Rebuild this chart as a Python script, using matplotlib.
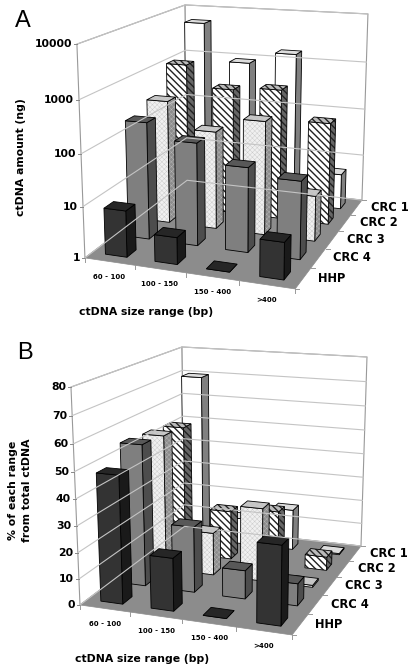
import numpy as np
import matplotlib
matplotlib.use("Agg")
import matplotlib.pyplot as plt
from matplotlib.patches import Polygon

plt.rcParams['font.family'] = ['DejaVu Sans']
plt.rcParams['hatch.linewidth'] = 1.0

size_ranges = ['60 - 100', '100 - 150', '150 - 400', '>400']
series_names = ['HHP', 'CRC 4', 'CRC 3', 'CRC 2', 'CRC 1']

# panel A, ng
amount_hhp = [8, 3.3, 1, 5]
amount_crc4 = [210, 105, 45, 32]
amount_crc3 = [320, 95, 190, 8]
amount_crc2 = [1100, 400, 470, 120]
amount_crc1 = [5500, 900, 1600, 5.5]
amount_ticks = [1, 10, 100, 1000, 10000]

# panel B, %
pct_hhp = [48.5, 20, 0, 29.5]
pct_crc4 = [55, 25.5, 11, 8.5]
pct_crc3 = [54, 17, 29, 0.8]
pct_crc2 = [53, 20, 22, 5.5]
pct_crc1 = [70, 11, 17, 0.5]
pct_ticks = [0, 10, 20, 30, 40, 50, 60, 70, 80]

# front, side, top colours per series; hatch colour drawn over the fill
styles = [
    dict(front='#333333', side='#1a1a1a', top='#262626', hatch=None, ink='black', ink_lw=1.0),
    dict(front='#7f7f7f', side='#4d4d4d', top='#585858', hatch=None, ink='black', ink_lw=1.0),
    dict(front='#f0f0f0', side='#8c8c8c', top='#c8c8c8', hatch='xxxxxxx', ink='#c0c0c0', ink_lw=0.25),
    dict(front='#ffffff', side='#666666', top='#bbbbbb', hatch='\\\\\\\\\\', ink='#222222', ink_lw=1.0),
    dict(front='#ffffff', side='#808080', top='#dddddd', hatch=None, ink='black', ink_lw=1.0),
]

X_LO, X_HI = 0.27, 0.71
Y_LO, Y_HI = 0.30, 0.70


def make_camera(corners):
    # homography from (cat, series, height 0..1) to pixels, from six box corners
    world = [(0, 0, 0), (4, 0, 0), (4, 5, 0), (0, 0, 1), (0, 5, 1), (4, 5, 1)]
    rows = []
    for (X, Y, Z), (u, v) in zip(world, corners):
        rows.append([X, Y, Z, 1, 0, 0, 0, 0, -u * X, -u * Y, -u * Z, -u])
        rows.append([0, 0, 0, 0, X, Y, Z, 1, -v * X, -v * Y, -v * Z, -v])
    P = np.linalg.svd(np.array(rows, dtype=float))[2][-1].reshape(3, 4)

    def project(x, y, z):
        p = P @ np.array([x, y, z, 1.0])
        return p[0] / p[2], p[1] / p[2]
    return project


def add_face(ax, pts, col, st):
    ax.add_patch(Polygon(pts, fc=col, ec='none', lw=0))
    if st['hatch']:
        p = Polygon(pts, fill=False, ec=st['ink'], lw=0, hatch=st['hatch'])
        p.set_hatch_linewidth(st['ink_lw'])
        ax.add_patch(p)
    ax.add_patch(Polygon(pts, fill=False, ec='black', lw=0.6))


def draw_panel(ax, corners, rows, to_height, ticks, letter, letter_pos, ylabel, ylabel_pos, xlabel_pos):
    pr = make_camera(corners)

    # walls
    ax.add_patch(Polygon([pr(0, 0, 0), pr(0, 5, 0), pr(0, 5, 1), pr(0, 0, 1)], fc='white', ec='#999999', lw=0.8))
    ax.add_patch(Polygon([pr(0, 5, 0), pr(4, 5, 0), pr(4, 5, 1), pr(0, 5, 1)], fc='white', ec='#999999', lw=0.8))
    for t in ticks:
        h = to_height(t)
        line = [pr(0, 0, h), pr(0, 5, h), pr(4, 5, h)]
        ax.plot(*zip(*line), color='#c4c4c4', lw=0.8)
        u, v = pr(0, 0, h)
        ax.plot([u - 3, u], [v, v], color='#888888', lw=0.7)
        ax.text(u - 5, v, str(t), ha='right', va='center', fontsize=7.8, fontweight='bold')

    # floor
    ax.add_patch(Polygon([pr(0, 0, 0), pr(4, 0, 0), pr(4, 5, 0), pr(0, 5, 0)], fc='#8c8c8c', ec='#8c8c8c', lw=0.5))

    # ticks and labels on the floor edges
    for i in range(5):
        u, v = pr(i, 0, 0)
        ax.plot([u, u], [v, v + 4], color='#999999', lw=0.7)
    for j in range(6):
        u, v = pr(4, j, 0)
        ax.plot([u, u + 4], [v, v], color='#999999', lw=0.7)
    for i, name in enumerate(size_ranges):
        u, v = pr(i + 0.5, 0, 0)
        ax.text(u, v + 15, name, ha='center', va='center', fontsize=5.0, fontweight='bold')
    for j, name in enumerate(series_names):
        u, v = pr(4, j + 0.5, 0)
        ax.text(u + 15, v, name, ha='left', va='center', fontsize=8.3, fontweight='bold')

    # bars, back row first
    for j in range(4, -1, -1):
        st = styles[j]
        for i in range(4):
            h = to_height(rows[j][i])
            x0, x1 = i + X_LO, i + X_HI
            y0, y1 = j + Y_LO, j + Y_HI
            add_face(ax, [pr(x1, y0, 0), pr(x1, y1, 0), pr(x1, y1, h), pr(x1, y0, h)], st['side'], st)
            add_face(ax, [pr(x0, y0, 0), pr(x1, y0, 0), pr(x1, y0, h), pr(x0, y0, h)], st['front'], st)
            add_face(ax, [pr(x0, y0, h), pr(x1, y0, h), pr(x1, y1, h), pr(x0, y1, h)], st['top'], st)

    ax.text(*letter_pos, letter, ha='center', va='center', fontsize=17, family='Liberation Sans')
    ax.text(*ylabel_pos, ylabel, ha='center', va='center', rotation=90, fontsize=7.8, fontweight='bold', linespacing=1.5)
    ax.text(*xlabel_pos, 'ctDNA size range (bp)', ha='center', va='center', fontsize=7.8, fontweight='bold')


fig = plt.figure(figsize=(4.15, 6.69), dpi=100)
ax = fig.add_axes([0, 0, 1, 1])
ax.set_xlim(0, 415)
ax.set_ylim(669, 0)
ax.axis('off')

draw_panel(ax, [(85, 258), (295, 289), (362, 200), (77, 44), (185, 5), (368, 14)],
           [amount_hhp, amount_crc4, amount_crc3, amount_crc2, amount_crc1],
           lambda v: np.log10(v) / 4, amount_ticks, 'A', (23, 21),
           'ctDNA amount (ng)', (21, 157), (146, 312))

draw_panel(ax, [(80, 605), (292, 635), (361, 546), (71, 387), (182, 347), (367, 357)],
           [pct_hhp, pct_crc4, pct_crc3, pct_crc2, pct_crc1],
           lambda v: v / 80, pct_ticks, 'B', (25, 353),
           '% of each range\nfrom total ctDNA', (20, 490), (142, 659))

fig.savefig('out.png', dpi=100)
